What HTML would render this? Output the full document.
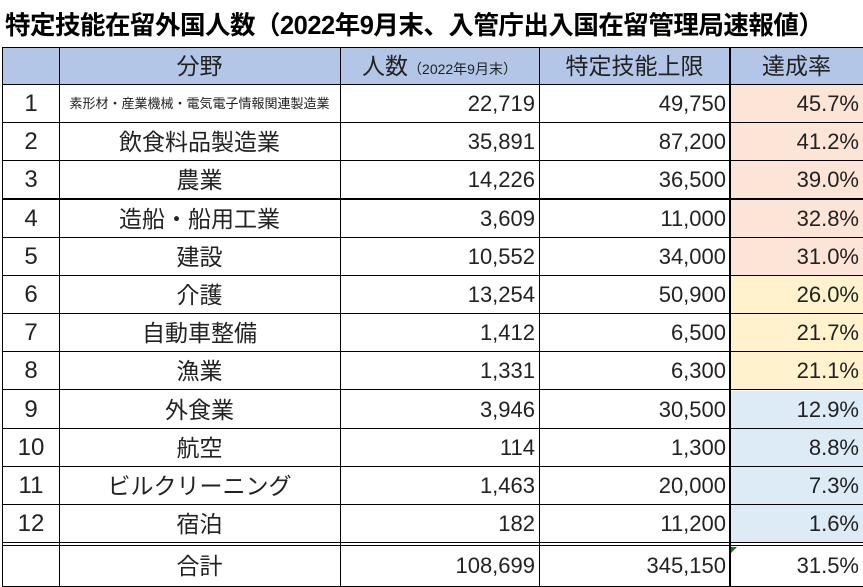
<!DOCTYPE html><html><head><meta charset="utf-8"><style>
body{margin:0;width:863px;height:587px;background:#fff;overflow:hidden;position:relative;font-family:"Liberation Sans","Noto Sans CJK JP",sans-serif;color:#222}
.t{position:absolute;left:5px;top:5px;font-size:25.5px;font-weight:bold;color:#000;white-space:nowrap;letter-spacing:-0.5px}
.c{position:absolute;box-sizing:border-box;font-size:22px;line-height:38px;white-space:nowrap;overflow:hidden}
.j{font-size:23px}
.r{text-align:right;padding-right:4px}.m{text-align:center}
.h{background:#b4c6e7}.s{background:#fce4d6}.y{background:#fff2cc}.b{background:#ddebf7}
.l{position:absolute;background:#000}
</style></head><body>
<div class="t">特定技能在留外国人数（2022年9月末、入管庁出入国在留管理局速報値）</div>
<div class="c h" style="left:3px;top:47px;width:860px;height:38px"></div>
<div class="c m j" style="left:59px;top:47px;width:281px">分野</div>
<div class="c m j" style="left:340px;top:47px;width:199px">人数<span style="font-size:14px">（2022年9月末）</span></div>
<div class="c m j" style="left:539px;top:47px;width:191px">特定技能上限</div>
<div class="c m j" style="left:730px;top:47px;width:133px">達成率</div>
<div id="rows"></div>
<script>
var d=[["1","素形材・産業機械・電気電子情報関連製造業","22,719","49,750","45.7%","s"],["2","飲食料品製造業","35,891","87,200","41.2%","s"],["3","農業","14,226","36,500","39.0%","s"],["4","造船・船用工業","3,609","11,000","32.8%","s"],["5","建設","10,552","34,000","31.0%","s"],["6","介護","13,254","50,900","26.0%","y"],["7","自動車整備","1,412","6,500","21.7%","y"],["8","漁業","1,331","6,300","21.1%","y"],["9","外食業","3,946","30,500","12.9%","b"],["10","航空","114","1,300","8.8%","b"],["11","ビルクリーニング","1,463","20,000","7.3%","b"],["12","宿泊","182","11,200","1.6%","b"]];
var h="";
d.forEach(function(r,i){var t=85+i*38.2;
h+='<div class="c '+r[5]+'" style="left:730px;top:'+t+'px;width:133px;height:38px"></div>';
h+='<div class="c m" style="left:3px;top:'+t+'px;width:56px;font-size:24px">'+r[0]+'</div>';
h+='<div class="c m j" style="left:59px;top:'+t+'px;width:281px;'+(i==0?'font-size:13px':'')+'">'+r[1]+'</div>';
h+='<div class="c r" style="left:340px;top:'+t+'px;width:199px">'+r[2]+'</div>';
h+='<div class="c r" style="left:539px;top:'+t+'px;width:191px">'+r[3]+'</div>';
h+='<div class="c r" style="left:730px;top:'+t+'px;width:133px">'+r[4]+'</div>';
h+='<div class="l" style="left:3px;top:'+(t+37)+'px;width:860px;height:'+(i==2?2:1)+'px"></div>';
});
var t=547;
h+='<div class="c m j" style="left:59px;top:'+t+'px;width:281px">合計</div><div class="c r" style="left:340px;top:'+t+'px;width:199px">108,699</div><div class="c r" style="left:539px;top:'+t+'px;width:191px">345,150</div><div class="c r" style="left:730px;top:'+t+'px;width:133px">31.5%</div>';
h+='<div class="l" style="left:3px;top:542px;width:860px;height:1px"></div><div class="l" style="left:3px;top:545px;width:860px;height:1px"></div><div class="l" style="left:3px;top:586px;width:860px;height:1px"></div>';
h+='<div class="l" style="left:3px;top:47px;width:860px;height:1px"></div><div class="l" style="left:3px;top:84px;width:860px;height:1px"></div>';
[[2,1],[59,1],[340,1],[539,1],[729,2]].forEach(function(v){h+='<div class="l" style="left:'+v[0]+'px;top:47px;width:'+v[1]+'px;height:540px"></div>';});
h+='<div style="position:absolute;left:731px;top:547px;width:0;height:0;border-top:6px solid #207020;border-right:6px solid transparent"></div>';
document.getElementById("rows").outerHTML=h;
</script>
</body></html>
